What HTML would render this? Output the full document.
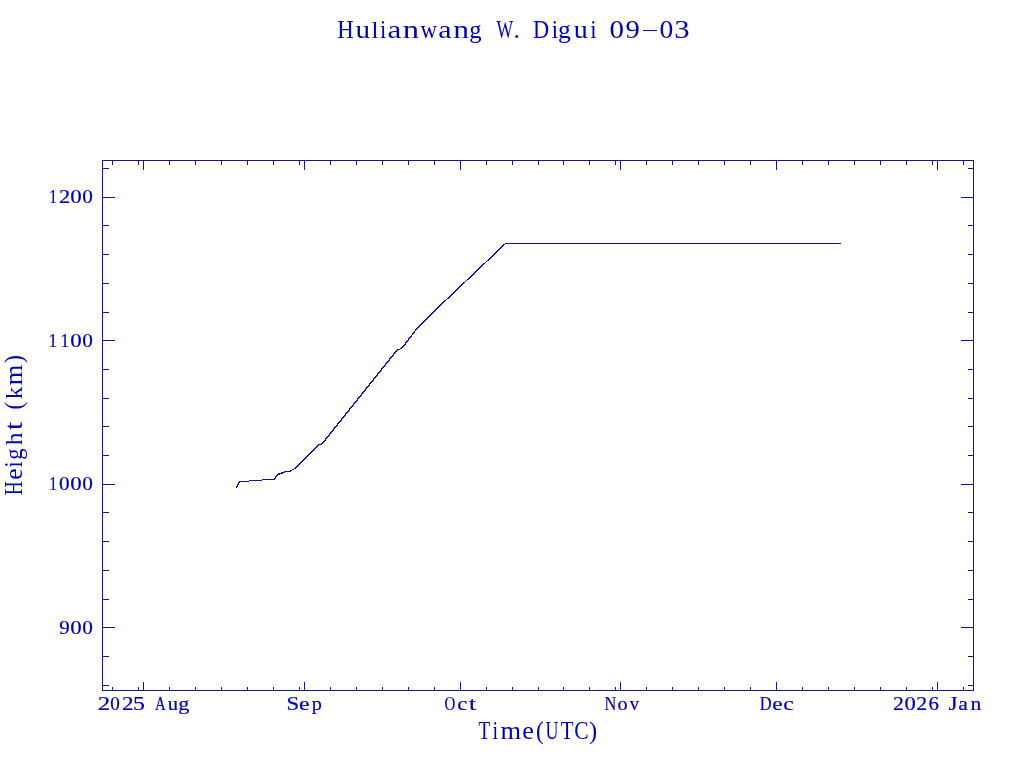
<!DOCTYPE html>
<html><head><meta charset="utf-8"><title>Hulianwang W. Digui 09-03</title><style>
html,body{margin:0;padding:0;background:#fff;overflow:hidden;}
svg{display:block;will-change:transform;}
text{font-family:"Liberation Serif",serif;fill:#0000b0;}
text[font-size="19.5"]{stroke:#0000b0;stroke-width:0.2px;}
</style></head><body>
<svg width="1024" height="768" viewBox="0 0 1024 768">
<rect width="1024" height="768" fill="#fff"/>
<path fill="#14148c" shape-rendering="crispEdges" d="M102 160h872v1h-872zM102 690h872v1h-872zM102 160h1v531h-1zM973 160h1v531h-1zM112 687h1v3h-1zM112 161h1v4h-1zM138 687h1v3h-1zM138 161h1v4h-1zM143 682h1v8h-1zM143 161h1v9h-1zM169 687h1v3h-1zM169 161h1v4h-1zM195 687h1v3h-1zM195 161h1v4h-1zM221 687h1v3h-1zM221 161h1v4h-1zM247 687h1v3h-1zM247 161h1v4h-1zM273 687h1v3h-1zM273 161h1v4h-1zM299 687h1v3h-1zM299 161h1v4h-1zM304 682h1v8h-1zM304 161h1v9h-1zM330 687h1v3h-1zM330 161h1v4h-1zM356 687h1v3h-1zM356 161h1v4h-1zM382 687h1v3h-1zM382 161h1v4h-1zM408 687h1v3h-1zM408 161h1v4h-1zM434 687h1v3h-1zM434 161h1v4h-1zM460 682h1v8h-1zM460 161h1v9h-1zM486 687h1v3h-1zM486 161h1v4h-1zM512 687h1v3h-1zM512 161h1v4h-1zM538 687h1v3h-1zM538 161h1v4h-1zM563 687h1v3h-1zM563 161h1v4h-1zM589 687h1v3h-1zM589 161h1v4h-1zM615 687h1v3h-1zM615 161h1v4h-1zM620 682h1v8h-1zM620 161h1v9h-1zM646 687h1v3h-1zM646 161h1v4h-1zM672 687h1v3h-1zM672 161h1v4h-1zM698 687h1v3h-1zM698 161h1v4h-1zM724 687h1v3h-1zM724 161h1v4h-1zM750 687h1v3h-1zM750 161h1v4h-1zM776 682h1v8h-1zM776 161h1v9h-1zM802 687h1v3h-1zM802 161h1v4h-1zM828 687h1v3h-1zM828 161h1v4h-1zM854 687h1v3h-1zM854 161h1v4h-1zM880 687h1v3h-1zM880 161h1v4h-1zM906 687h1v3h-1zM906 161h1v4h-1zM932 687h1v3h-1zM932 161h1v4h-1zM937 682h1v8h-1zM937 161h1v9h-1zM963 687h1v3h-1zM963 161h1v4h-1zM103 168h6v1h-6zM968 168h5v1h-5zM103 197h12v1h-12zM961 197h12v1h-12zM103 225h6v1h-6zM968 225h5v1h-5zM103 254h6v1h-6zM968 254h5v1h-5zM103 283h6v1h-6zM968 283h5v1h-5zM103 312h6v1h-6zM968 312h5v1h-5zM103 340h12v1h-12zM961 340h12v1h-12zM103 369h6v1h-6zM968 369h5v1h-5zM103 398h6v1h-6zM968 398h5v1h-5zM103 426h6v1h-6zM968 426h5v1h-5zM103 455h6v1h-6zM968 455h5v1h-5zM103 484h12v1h-12zM961 484h12v1h-12zM103 512h6v1h-6zM968 512h5v1h-5zM103 541h6v1h-6zM968 541h5v1h-5zM103 570h6v1h-6zM968 570h5v1h-5zM103 599h6v1h-6zM968 599h5v1h-5zM103 627h12v1h-12zM961 627h12v1h-12zM103 656h6v1h-6zM968 656h5v1h-5zM103 685h6v1h-6zM968 685h5v1h-5z"/>
<path fill="#14148c" shape-rendering="crispEdges" d="M505 243h336v1h-336zM503 244h2v1h-2zM502 245h2v1h-2zM501 246h2v1h-2zM500 247h2v1h-2zM499 248h2v1h-2zM498 249h2v1h-2zM497 250h2v1h-2zM496 251h2v1h-2zM495 252h2v1h-2zM494 253h2v1h-2zM493 254h2v1h-2zM492 255h2v1h-2zM491 256h2v1h-2zM490 257h2v1h-2zM489 258h2v1h-2zM488 259h2v1h-2zM487 260h2v1h-2zM486 261h1v1h-1zM485 262h1v1h-1zM483 263h2v1h-2zM482 264h2v1h-2zM481 265h2v1h-2zM480 266h2v1h-2zM479 267h2v1h-2zM478 268h2v1h-2zM477 269h2v1h-2zM476 270h2v1h-2zM475 271h2v1h-2zM474 272h2v1h-2zM473 273h2v1h-2zM472 274h2v1h-2zM471 275h2v1h-2zM470 276h2v1h-2zM469 277h2v1h-2zM468 278h2v1h-2zM467 279h2v1h-2zM466 280h1v1h-1zM465 281h1v1h-1zM463 282h2v1h-2zM462 283h2v1h-2zM461 284h2v1h-2zM460 285h2v1h-2zM459 286h2v1h-2zM458 287h2v1h-2zM457 288h2v1h-2zM456 289h2v1h-2zM455 290h2v1h-2zM454 291h2v1h-2zM453 292h2v1h-2zM452 293h2v1h-2zM451 294h2v1h-2zM450 295h2v1h-2zM449 296h2v1h-2zM448 297h2v1h-2zM447 298h2v1h-2zM446 299h1v1h-1zM444 300h2v1h-2zM443 301h2v1h-2zM442 302h2v1h-2zM441 303h2v1h-2zM440 304h2v1h-2zM439 305h2v1h-2zM438 306h2v1h-2zM437 307h2v1h-2zM436 308h2v1h-2zM435 309h2v1h-2zM434 310h2v1h-2zM433 311h2v1h-2zM432 312h2v1h-2zM431 313h2v1h-2zM430 314h2v1h-2zM429 315h2v1h-2zM428 316h2v1h-2zM427 317h2v1h-2zM426 318h2v1h-2zM425 319h2v1h-2zM424 320h2v1h-2zM423 321h2v1h-2zM422 322h2v1h-2zM421 323h2v1h-2zM420 324h2v1h-2zM419 325h2v1h-2zM418 326h2v1h-2zM417 327h2v1h-2zM416 328h2v1h-2zM415 329h2v1h-2zM415 330h1v1h-1zM414 331h1v1h-1zM413 332h2v1h-2zM412 333h2v1h-2zM412 334h1v1h-1zM411 335h1v1h-1zM410 336h2v1h-2zM409 337h2v1h-2zM408 338h2v1h-2zM408 339h1v1h-1zM407 340h2v1h-2zM406 341h2v1h-2zM405 342h2v1h-2zM405 343h1v1h-1zM404 344h2v1h-2zM403 345h2v1h-2zM402 346h2v1h-2zM401 347h2v1h-2zM400 348h2v1h-2zM397 349h3v1h-3zM396 350h2v1h-2zM395 351h2v1h-2zM394 352h2v1h-2zM393 353h2v1h-2zM393 354h1v1h-1zM392 355h2v1h-2zM391 356h2v1h-2zM390 357h2v1h-2zM389 358h2v1h-2zM389 359h1v1h-1zM388 360h2v1h-2zM387 361h2v1h-2zM386 362h2v1h-2zM385 363h2v1h-2zM385 364h1v1h-1zM384 365h2v1h-2zM383 366h2v1h-2zM382 367h2v1h-2zM381 368h2v1h-2zM381 369h1v1h-1zM380 370h2v1h-2zM379 371h2v1h-2zM378 372h2v1h-2zM377 373h2v1h-2zM377 374h1v1h-1zM376 375h2v1h-2zM375 376h2v1h-2zM374 377h2v1h-2zM373 378h2v1h-2zM373 379h1v1h-1zM372 380h2v1h-2zM371 381h2v1h-2zM370 382h2v1h-2zM369 383h2v1h-2zM369 384h1v1h-1zM368 385h2v1h-2zM367 386h2v1h-2zM366 387h2v1h-2zM365 388h2v1h-2zM365 389h1v1h-1zM364 390h2v1h-2zM363 391h2v1h-2zM362 392h2v1h-2zM361 393h2v1h-2zM361 394h1v1h-1zM360 395h2v1h-2zM359 396h2v1h-2zM358 397h2v1h-2zM357 398h2v1h-2zM357 399h1v1h-1zM356 400h2v1h-2zM355 401h2v1h-2zM354 402h2v1h-2zM353 403h2v1h-2zM353 404h1v1h-1zM352 405h2v1h-2zM351 406h2v1h-2zM350 407h2v1h-2zM349 408h2v1h-2zM349 409h1v1h-1zM348 410h2v1h-2zM347 411h2v1h-2zM346 412h2v1h-2zM345 413h2v1h-2zM345 414h1v1h-1zM344 415h2v1h-2zM343 416h2v1h-2zM342 417h2v1h-2zM341 418h2v1h-2zM341 419h1v1h-1zM340 420h2v1h-2zM339 421h2v1h-2zM338 422h2v1h-2zM337 423h2v1h-2zM337 424h1v1h-1zM336 425h2v1h-2zM335 426h2v1h-2zM334 427h2v1h-2zM333 428h2v1h-2zM333 429h1v1h-1zM332 430h2v1h-2zM331 431h2v1h-2zM330 432h2v1h-2zM329 433h2v1h-2zM329 434h1v1h-1zM328 435h2v1h-2zM327 436h2v1h-2zM326 437h2v1h-2zM325 438h2v1h-2zM325 439h1v1h-1zM324 440h2v1h-2zM323 441h2v1h-2zM322 442h2v1h-2zM321 443h2v1h-2zM318 444h4v1h-4zM317 445h2v1h-2zM316 446h2v1h-2zM315 447h2v1h-2zM314 448h2v1h-2zM313 449h2v1h-2zM312 450h2v1h-2zM311 451h2v1h-2zM310 452h2v1h-2zM309 453h2v1h-2zM308 454h2v1h-2zM307 455h2v1h-2zM306 456h2v1h-2zM305 457h2v1h-2zM304 458h2v1h-2zM303 459h2v1h-2zM302 460h2v1h-2zM301 461h2v1h-2zM300 462h2v1h-2zM299 463h2v1h-2zM298 464h2v1h-2zM297 465h2v1h-2zM296 466h2v1h-2zM295 467h2v1h-2zM294 468h2v1h-2zM292 469h2v1h-2zM290 470h2v1h-2zM284 471h7v1h-7zM281 472h4v1h-4zM278 473h5v1h-5zM277 474h3v1h-3zM276 475h2v1h-2zM275 476h2v1h-2zM275 477h1v1h-1zM274 478h2v1h-2zM262 479h13v1h-13zM249 480h13v1h-13zM239 481h10v1h-10zM238 482h2v1h-2zM238 483h1v1h-1zM237 484h2v1h-2zM237 485h1v1h-1zM236 486h2v1h-2zM236 487h1v1h-1z"/>
<text transform="translate(337.34 38) scale(0.875 1.000)" font-size="26">H</text>
<text transform="translate(355.62 38) scale(1.122 1.000)" font-size="26">u</text>
<text transform="translate(371.60 38) scale(0.954 0.920)" font-size="26">l</text>
<text transform="translate(379.92 38) scale(0.873 1.000)" font-size="26">i</text>
<text transform="translate(387.61 38) scale(1.198 1.000)" font-size="26">a</text>
<text transform="translate(402.65 38) scale(1.257 1.000)" font-size="26">n</text>
<text transform="translate(420.48 38) scale(0.885 1.000)" font-size="26">w</text>
<text transform="translate(438.35 38) scale(1.149 1.000)" font-size="26">a</text>
<text transform="translate(453.37 38) scale(1.216 1.000)" font-size="26">n</text>
<text transform="translate(469.14 38) scale(0.948 1.000)" font-size="26">g</text>
<text transform="translate(496.58 38) scale(0.679 1.000)" font-size="26">W</text>
<text transform="translate(513.43 38) scale(0.976 1.000)" font-size="26">.</text>
<text transform="translate(533.06 38) scale(0.860 1.000)" font-size="26">D</text>
<text transform="translate(551.72 38) scale(0.873 1.000)" font-size="26">i</text>
<text transform="translate(558.00 38) scale(0.984 1.000)" font-size="26">g</text>
<text transform="translate(573.83 38) scale(1.081 1.000)" font-size="26">u</text>
<text transform="translate(590.32 38) scale(0.873 1.000)" font-size="26">i</text>
<text transform="translate(609.49 38) scale(1.116 0.930)" font-size="26">0</text>
<text transform="translate(625.38 38) scale(1.100 0.930)" font-size="26">9</text>
<text transform="translate(659.45 38) scale(1.062 0.930)" font-size="26">0</text>
<text transform="translate(674.13 38) scale(1.182 0.930)" font-size="26">3</text>
<rect x="643" y="30" width="14" height="1" fill="#0000b0"/>
<text transform="translate(97.80 710) scale(1.279 1.000)" font-size="19.5">2</text>
<text transform="translate(110.37 710) scale(0.980 1.000)" font-size="19.5">0</text>
<text transform="translate(122.08 710) scale(1.190 1.000)" font-size="19.5">2</text>
<text transform="translate(132.92 710) scale(1.222 1.000)" font-size="19.5">5</text>
<text transform="translate(154.95 710) scale(0.764 1.000)" font-size="19.5">A</text>
<text transform="translate(167.83 710) scale(1.059 1.000)" font-size="19.5">u</text>
<text transform="translate(178.15 710) scale(1.136 1.000)" font-size="19.5">g</text>
<text transform="translate(286.58 710) scale(1.164 1.000)" font-size="19.5">S</text>
<text transform="translate(299.07 710) scale(1.219 1.000)" font-size="19.5">e</text>
<text transform="translate(311.67 710) scale(1.038 1.000)" font-size="19.5">p</text>
<text transform="translate(444.38 710) scale(0.769 1.000)" font-size="19.5">O</text>
<text transform="translate(457.33 710) scale(1.176 1.000)" font-size="19.5">c</text>
<text transform="translate(468.95 710) scale(1.330 1.000)" font-size="19.5">t</text>
<text transform="translate(604.53 710) scale(0.841 1.000)" font-size="19.5">N</text>
<text transform="translate(617.43 710) scale(1.041 1.000)" font-size="19.5">o</text>
<text transform="translate(629.70 710) scale(0.954 1.000)" font-size="19.5">v</text>
<text transform="translate(759.63 710) scale(0.840 1.000)" font-size="19.5">D</text>
<text transform="translate(772.29 710) scale(1.192 1.000)" font-size="19.5">e</text>
<text transform="translate(783.31 710) scale(1.203 1.000)" font-size="19.5">c</text>
<text transform="translate(892.95 710) scale(1.113 1.000)" font-size="19.5">2</text>
<text transform="translate(904.44 710) scale(1.162 1.000)" font-size="19.5">0</text>
<text transform="translate(916.34 710) scale(1.126 1.000)" font-size="19.5">2</text>
<text transform="translate(928.40 710) scale(1.068 1.000)" font-size="19.5">6</text>
<text transform="translate(948.41 710) scale(1.196 1.000)" font-size="19.5">J</text>
<text transform="translate(958.33 710) scale(1.116 1.000)" font-size="19.5">a</text>
<text transform="translate(970.40 710) scale(1.110 1.000)" font-size="19.5">n</text>
<text transform="translate(49.25 203) scale(0.787 1.000)" font-size="19.5">1</text>
<text transform="translate(58.91 203) scale(1.151 1.000)" font-size="19.5">2</text>
<text transform="translate(70.23 203) scale(1.174 1.000)" font-size="19.5">0</text>
<text transform="translate(82.29 203) scale(1.089 1.000)" font-size="19.5">0</text>
<text transform="translate(48.38 347) scale(0.889 1.000)" font-size="19.5">1</text>
<text transform="translate(60.38 347) scale(0.889 1.000)" font-size="19.5">1</text>
<text transform="translate(70.23 347) scale(1.174 1.000)" font-size="19.5">0</text>
<text transform="translate(82.29 347) scale(1.089 1.000)" font-size="19.5">0</text>
<text transform="translate(49.25 490) scale(0.787 1.000)" font-size="19.5">1</text>
<text transform="translate(59.09 490) scale(1.089 1.000)" font-size="19.5">0</text>
<text transform="translate(70.23 490) scale(1.174 1.000)" font-size="19.5">0</text>
<text transform="translate(82.29 490) scale(1.089 1.000)" font-size="19.5">0</text>
<text transform="translate(59.22 634) scale(1.081 1.000)" font-size="19.5">9</text>
<text transform="translate(70.23 634) scale(1.174 1.000)" font-size="19.5">0</text>
<text transform="translate(82.29 634) scale(1.089 1.000)" font-size="19.5">0</text>
<text transform="translate(478.46 739) scale(0.782 1.000)" font-size="24.4">T</text>
<text transform="translate(492.58 739) scale(0.827 1.000)" font-size="24.4">i</text>
<text transform="translate(500.54 739) scale(1.084 1.000)" font-size="24.4">m</text>
<text transform="translate(522.28 739) scale(1.074 1.000)" font-size="24.4">e</text>
<text transform="translate(535.97 739) scale(0.957 1.000)" font-size="24.4">(</text>
<text transform="translate(545.62 739) scale(0.735 1.000)" font-size="24.4">U</text>
<text transform="translate(560.82 739) scale(0.854 1.000)" font-size="24.4">T</text>
<text transform="translate(574.32 739) scale(0.876 1.000)" font-size="24.4">C</text>
<text transform="translate(589.01 739) scale(1.005 1.000)" font-size="24.4">)</text>
<text transform="translate(22 495.26) rotate(-90) scale(0.796 1.000)" font-size="24.4">H</text>
<text transform="translate(22 479.69) rotate(-90) scale(1.041 1.000)" font-size="24.4">e</text>
<text transform="translate(22 467.46) rotate(-90) scale(0.896 1.000)" font-size="24.4">i</text>
<text transform="translate(22 459.67) rotate(-90) scale(0.926 1.000)" font-size="24.4">g</text>
<text transform="translate(22 445.15) rotate(-90) scale(1.040 0.920)" font-size="24.4">h</text>
<text transform="translate(22 429.99) rotate(-90) scale(1.219 1.000)" font-size="24.4">t</text>
<text transform="translate(22 409.61) rotate(-90) scale(0.941 1.000)" font-size="24.4">(</text>
<text transform="translate(22 399.28) rotate(-90) scale(1.031 0.920)" font-size="24.4">k</text>
<text transform="translate(22 385.36) rotate(-90) scale(1.084 1.000)" font-size="24.4">m</text>
<text transform="translate(22 362.88) rotate(-90) scale(0.989 1.000)" font-size="24.4">)</text>
</svg>
</body></html>
